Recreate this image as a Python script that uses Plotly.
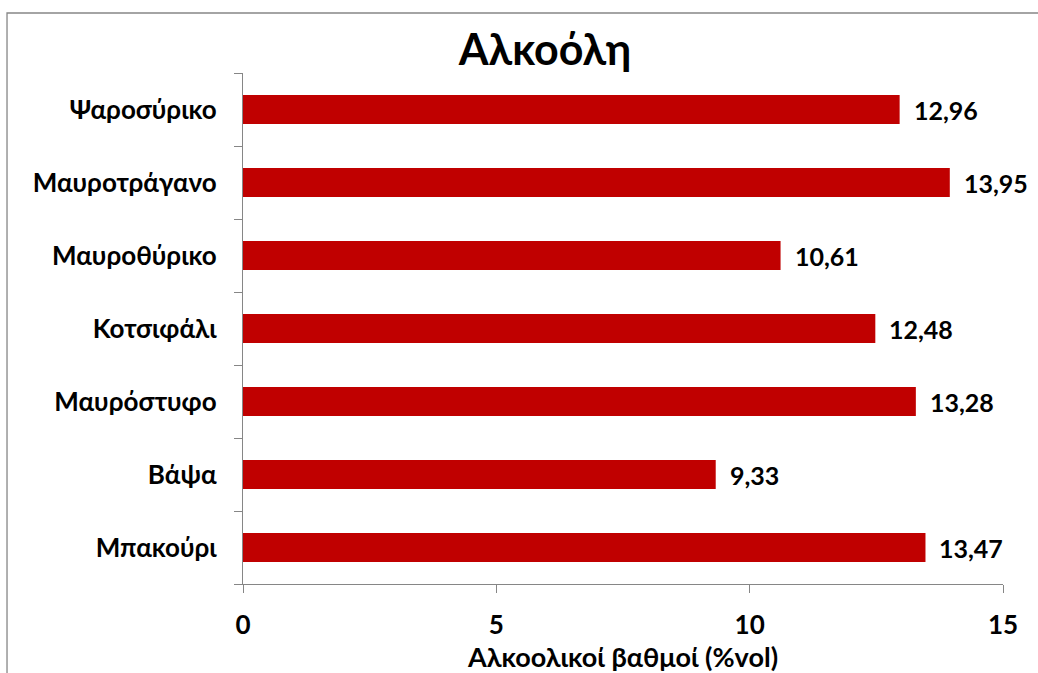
import plotly.graph_objects as go

# Grape varieties (bottom to top) and their alcohol content (%vol)
varieties = ["Μπακούρι", "Βάψα", "Μαυρόστυφο", "Κοτσιφάλι",
             "Μαυροθύρικο", "Μαυροτράγανο", "Ψαροσύρικο"]
alcohol = [13.47, 9.33, 13.28, 12.48, 10.61, 13.95, 12.96]
x_ticks = [0, 5, 10, 15]

FONT = "Lato"
AXIS_GREY = "#868686"
BAR_RED = "#C00000"

fig = go.Figure()
fig.add_trace(go.Bar(
    x=alcohol,
    y=varieties,
    orientation="h",
    marker=dict(color=BAR_RED, line=dict(width=0)),
    width=0.4,
    hoverinfo="x+y",
))

# Value labels just past the end of each bar
for v, cat in zip(alcohol, varieties):
    fig.add_annotation(
        x=v, y=cat, xref="x", yref="y",
        text="<b>" + f"{v:.2f}".replace(".", ",") + "</b>",
        showarrow=False, xanchor="left", yanchor="middle",
        xshift=12,
        font=dict(family=FONT, size=25, color="#000000"),
    )

# Chart-area frame
fig.add_shape(
    type="rect", xref="paper", yref="paper",
    x0=-0.3105, x1=1.2, y0=-0.4, y1=1.1174,
    line=dict(color=AXIS_GREY, width=1.3), fillcolor="rgba(0,0,0,0)",
    layer="below",
)

fig.update_layout(
    width=1038, height=673,
    margin=dict(l=243, r=35, t=73, b=89, autoexpand=False),
    paper_bgcolor="white", plot_bgcolor="white",
    showlegend=False,
    bargap=0.6,
    title=dict(
        text="<b>Αλκοόλη</b>",
        x=(545 / 1038), xanchor="center",
        y=1 - 50 / 673, yanchor="middle",
        font=dict(family=FONT, size=43, color="#000000"),
    ),
    xaxis=dict(
        range=[0, 15],
        tickvals=x_ticks,
        ticktext=[f"<b>{t}</b>" for t in x_ticks],
        showgrid=False, zeroline=False,
        showline=True, linecolor=AXIS_GREY, linewidth=1.3,
        ticks="outside", ticklen=8, tickcolor=AXIS_GREY, tickwidth=1.3,
        ticklabelstandoff=10,
        tickfont=dict(family=FONT, size=26, color="#000000"),
        title=dict(
            text="<b>Αλκοολικοί βαθμοί (%vol)</b>",
            font=dict(family=FONT, size=27, color="#000000", weight="bold"),
            standoff=3,
        ),
        fixedrange=True,
    ),
    yaxis=dict(
        tickvals=varieties,
        ticktext=[f"<b>{c}</b>" for c in varieties],
        showgrid=False, zeroline=False,
        showline=True, linecolor=AXIS_GREY, linewidth=1.3,
        ticks="outside", ticklen=8, tickcolor=AXIS_GREY, tickwidth=1.3,
        tickson="boundaries",
        ticklabelstandoff=20,
        tickfont=dict(family=FONT, size=26, color="#000000"),
        fixedrange=True,
    ),
)

fig.write_html("out.html")
